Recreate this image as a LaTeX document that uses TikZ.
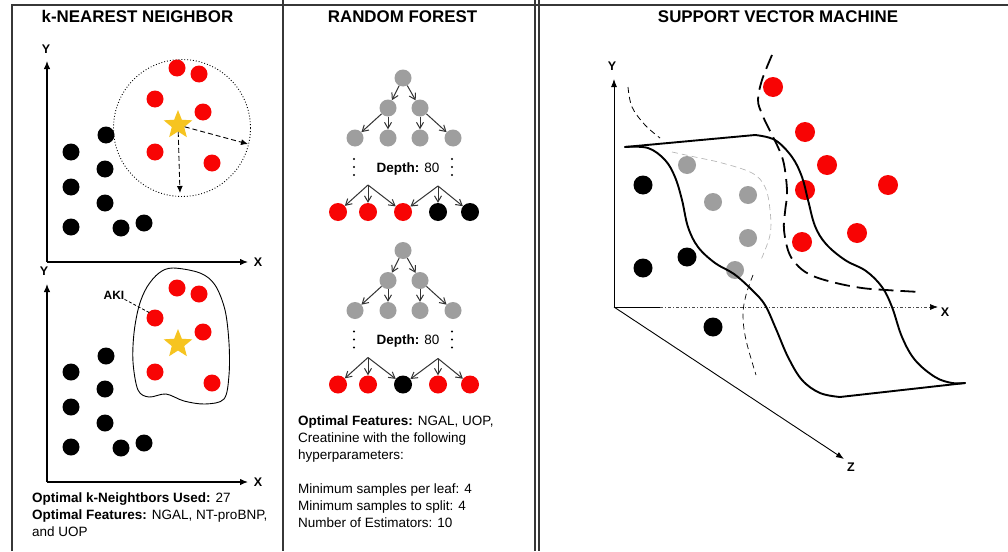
\documentclass[tikz,border=0pt]{standalone}
\usepackage{fontspec}
\setmainfont{Liberation Sans}
\usetikzlibrary{arrows.meta,shapes.geometric}
\definecolor{ptred}{RGB}{248,4,4}
\definecolor{ptgrey}{RGB}{158,158,158}
\definecolor{stargold}{RGB}{246,196,32}
\definecolor{framegrey}{RGB}{55,55,55}
\definecolor{hidden}{RGB}{175,175,175}
\tikzset{
  frameline/.style={draw=framegrey, line width=1.4pt},
  axis/.style={line width=1.2pt, -{Latex[length=8pt,width=6.5pt]}},
  thinaxis/.style={line width=0.9pt, -{Latex[length=8pt,width=6pt]}},
  axlabel/.style={font=\bfseries\fontsize{12.5}{14}\selectfont, inner sep=0pt},
  paneltitle/.style={font=\bfseries\fontsize{16.9}{20}\selectfont, inner sep=0pt, anchor=base},
  body/.style={font=\fontsize{13.5}{16}\selectfont, inner sep=0pt, anchor=base west},
  dot/.style={circle, inner sep=0pt, minimum size=#1},
  blackpt/.style={dot=17pt, fill=black},
  redpt/.style={dot=17pt, fill=ptred},
  greypt/.style={dot=17pt, fill=ptgrey},
  goldstar/.style={star, star points=5, star point ratio=2.3, minimum size=30pt,
                   inner sep=0pt, fill=stargold},
  dasharrow/.style={line width=0.9pt, dash pattern=on 5pt off 3pt,
                    -{Latex[length=7pt,width=6pt]}},
  treearrow/.style={line width=1pt, draw=black!80, -{Straight Barb[length=6pt,width=7pt]}},
  surf/.style={line width=1.9pt, line join=round, line cap=round},
  margin/.style={line width=1.8pt, dash pattern=on 15pt off 7pt},
  fine/.style={line width=0.8pt, dash pattern=on 6pt off 4pt},
}
\begin{document}
\begin{tikzpicture}[x=1pt, y=-1pt]
\useasboundingbox (0,0) rectangle (1008,551);
\fill[white] (0,0) rectangle (1008,551);

% panel frames
\draw[frameline] (12,551) -- (12,5) -- (1008,5);
\draw[frameline] (283,0) -- (283,551);
\draw[frameline] (535,0) -- (535,551);
\draw[frameline] (539,0) -- (539,551);

% titles
\node[paneltitle] (t1) at (137.5,23) {k-NEAREST NEIGHBOR};
\node[paneltitle] (t2) at (402.5,23) {RANDOM FOREST};
\node[paneltitle] (t3) at (778,23) {SUPPORT VECTOR MACHINE};

% ---------- k-nearest neighbour: upper plot ----------
\coordinate (ko) at (47,262);
\coordinate (kx) at (248,262);
\coordinate (ky) at (47,61);
\draw[axis] (ko) -- (kx);
\draw[axis] (ko) -- (ky);
\node[axlabel] (kxl) at (258,262) {X};
\node[axlabel] (kyl) at (46,49) {Y};
\node[draw, circle, dotted, line width=0.9pt, minimum size=137pt, inner sep=0pt] (kc) at (182,128) {};
\foreach \px/\py [count=\i] in {106/135,71/152,105/169,71/187,105/203,71/227,121/228,144/223}
  \node[blackpt] (kb\i) at (\px,\py) {};
\foreach \px/\py [count=\i] in {177/68,199/74,155/99,203/112,155/152,212/163}
  \node[redpt] (kr\i) at (\px,\py) {};
\node[goldstar] (ks) at (178,125) {};
\coordinate (kend1) at (248,144);
\coordinate (kend2) at (180,193);
\draw[dasharrow] (ks) -- (kend1);
\draw[dasharrow] (ks) -- (kend2);

% ---------- k-nearest neighbour: lower plot ----------
\coordinate (lo) at (47,482);
\coordinate (lx) at (248,482);
\coordinate (ly) at (47,284);
\draw[axis] (lo) -- (lx);
\draw[axis] (lo) -- (ly);
\node[axlabel] (lxl) at (258,482) {X};
\node[axlabel] (lyl) at (44,271) {Y};
\draw[line width=0.9pt] plot[smooth cycle, tension=0.55] coordinates {
  (173,268) (200,273) (215,285) (225,310) (229,343) (229,375) (224,399)
  (205,404) (184,401) (166,394) (149,397) (138,390) (133,362) (134,333)
  (139,306) (147,287) (159,273)};
\foreach \px/\py [count=\i] in {106/356,71/372,105/389,71/407,105/423,71/447,121/448,144/443}
  \node[blackpt] (lb\i) at (\px,\py) {};
\foreach \px/\py [count=\i] in {177/288,199/294,155/318,203/332,155/372,212/383}
  \node[redpt] (lr\i) at (\px,\py) {};
\node[goldstar] (ls) at (178,344) {};
\node[axlabel, font=\bfseries\fontsize{12}{14}\selectfont] (aki) at (114,295) {AKI};
\coordinate (akiend) at (150,313);
\draw[line width=0.8pt, dash pattern=on 3pt off 2pt] (aki.south east) -- (akiend);

% k-nearest neighbour notes
\node[body] (kn1) at (32,502) {\textbf{Optimal k-Neightbors Used:} 27};
\node[body] (kn2) at (32,519) {\textbf{Optimal Features:} NGAL, NT-proBNP,};
\node[body] (kn3) at (32,536) {and UOP};

% ---------- random forest: two trees ----------
\foreach \dy/\tag/\ca/\cb/\cc/\cd/\ce in {0/a/ptred/ptred/ptred/black/black,
                                        172.5/b/ptred/ptred/black/ptred/ptred}{
  \node[greypt] (\tag r) at (403,78+\dy) {};
  \node[greypt] (\tag m1) at (388,108+\dy) {};
  \node[greypt] (\tag m2) at (420,108+\dy) {};
  \node[greypt] (\tag n1) at (355,138+\dy) {};
  \node[greypt] (\tag n2) at (388,138+\dy) {};
  \node[greypt] (\tag n3) at (420,138+\dy) {};
  \node[greypt] (\tag n4) at (453,138+\dy) {};
  \draw[treearrow] (\tag r) -- (\tag m1);
  \draw[treearrow] (\tag r) -- (\tag m2);
  \draw[treearrow] (\tag m1) -- (\tag n1);
  \draw[treearrow] (\tag m1) -- (\tag n2);
  \draw[treearrow] (\tag m2) -- (\tag n3);
  \draw[treearrow] (\tag m2) -- (\tag n4);
  \foreach \vy in {159,167,175}{
    \fill (354,\vy+\dy) circle (1.1pt);
    \fill (452,\vy+\dy) circle (1.1pt);
  }
  \node[body, anchor=base] (\tag d) at (408,172+\dy) {\textbf{Depth:} 80};
  \coordinate (\tag s1) at (368,185+\dy);
  \coordinate (\tag s2) at (438,186+\dy);
  \node[dot=18pt, fill=\ca] (\tag l1) at (338,212+\dy) {};
  \node[dot=18pt, fill=\cb] (\tag l2) at (368,212+\dy) {};
  \node[dot=18pt, fill=\cc] (\tag l3) at (403,212+\dy) {};
  \node[dot=18pt, fill=\cd] (\tag l4) at (438,212+\dy) {};
  \node[dot=18pt, fill=\ce] (\tag l5) at (470,212+\dy) {};
  \draw[treearrow] (\tag s1) -- (\tag l1);
  \draw[treearrow] (\tag s1) -- (\tag l2);
  \draw[treearrow] (\tag s1) -- (\tag l3);
  \draw[treearrow] (\tag s2) -- (\tag l3);
  \draw[treearrow] (\tag s2) -- (\tag l4);
  \draw[treearrow] (\tag s2) -- (\tag l5);
}

% random forest notes
\node[body] (rn1) at (298,425) {\textbf{Optimal Features:} NGAL, UOP,};
\node[body] (rn2) at (298,442) {Creatinine with the following};
\node[body] (rn3) at (298,459) {hyperparameters:};
\node[body] (rn4) at (298,493) {Minimum samples per leaf: 4};
\node[body] (rn5) at (298,510) {Minimum samples to split: 4};
\node[body] (rn6) at (298,527) {Number of Estimators: 10};

% ---------- support vector machine ----------
\coordinate (so) at (614,307);
\coordinate (sy) at (614,79);
\coordinate (sxb) at (660,307);
\coordinate (sxa) at (930,307);
\coordinate (sx) at (938,307);
\coordinate (sz) at (844,459);
\draw[thinaxis] (so) -- (sy);
\draw[line width=0.9pt] (so) -- (sxb);
\draw[line width=0.7pt, draw=black!70, dash pattern=on 3pt off 2pt on 1pt off 2pt] (sxb) -- (sxa);
\draw[-{Latex[length=8pt,width=6pt]}, line width=0.7pt] (sxa) -- (sx);
\draw[thinaxis] (so) -- (sz);
\node[axlabel] (syl) at (612,66) {Y};
\node[axlabel] (sxl) at (945,312) {X};
\node[axlabel] (szl) at (851,467) {Z};

% hidden guide curve behind the sheet
\draw[fine] plot[smooth, tension=0.6] coordinates {(628,87) (632,107) (645,125) (660,138)};
\draw[fine, draw=hidden, line width=0.6pt] plot[smooth, tension=0.6] coordinates {
  (672,152) (695,157) (722,163) (752,173) (765,187) (770,210) (770,235) (760,262)};
\draw[fine, line width=0.7pt] plot[smooth, tension=0.6] coordinates {
  (753,275) (746,295) (743,315) (746,340) (756,375)};

% data points
\foreach \px/\py [count=\i] in {687/165,713/202,748/195,748/238,735/270}
  \node[dot=18pt, fill=ptgrey] (sg\i) at (\px,\py) {};
\foreach \px/\py [count=\i] in {643/185,687/257,643/268,713/327}
  \node[dot=19pt, fill=black] (sb\i) at (\px,\py) {};
\foreach \px/\py [count=\i] in {773/87,805/132,827/165,805/190,888/185,802/242,857/233}
  \node[dot=20pt, fill=ptred] (sr\i) at (\px,\py) {};

% separating sheet
\draw[surf] (625,147) -- (755,135);
\draw[surf] plot[smooth, tension=0.6] coordinates {
  (625,147) (648,148) (665,160) (675,177) (682,200) (688,227) (698,247)
  (715,263) (734,274) (752,290) (765,305) (776,329) (788,357) (802,380)
  (820,393) (840,397)};
\draw[surf] plot[smooth, tension=0.6] coordinates {
  (755,135) (775,140) (792,157) (802,177) (808,200) (815,226) (826,244)
  (845,260) (866,271) (882,287) (892,307) (902,337) (915,360) (935,377)
  (952,383) (965,383)};
\draw[surf] (840,397) -- (965,383);

% margin boundary
\draw[margin] plot[smooth, tension=0.6] coordinates {
  (772,55) (762,80) (758,100) (762,114) (769,129) (777,145) (783,160)
  (786,178) (787,195) (785,212) (784,230) (789,253) (799,267) (813,276)
  (836,283) (862,288) (886,290) (920,292)};
\end{tikzpicture}
\end{document}
